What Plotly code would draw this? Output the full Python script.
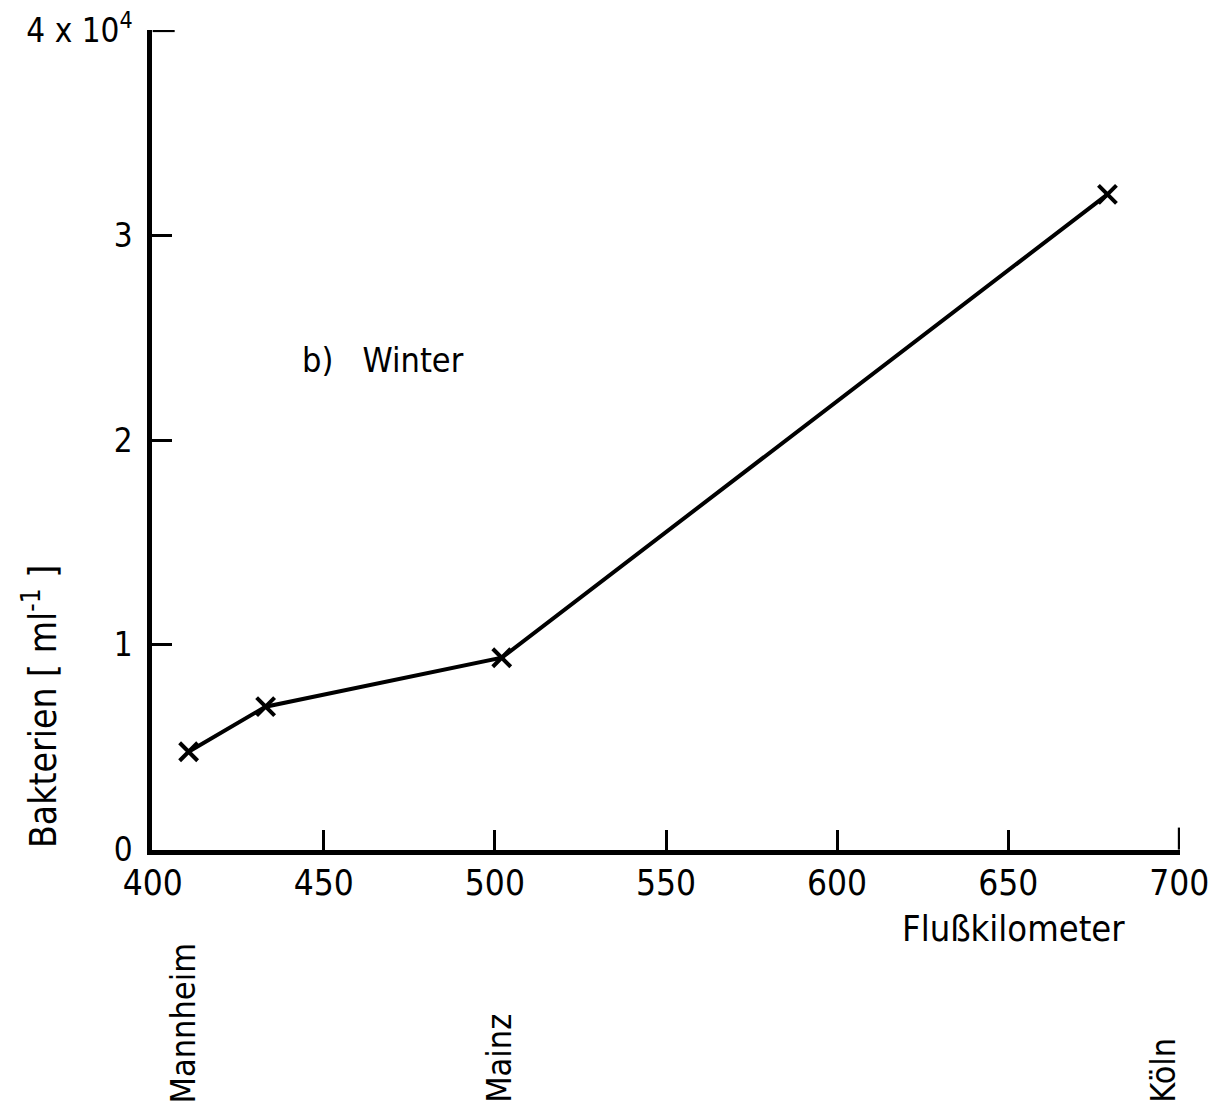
import plotly.graph_objects as go

km = [410.5, 433, 502, 679]
bakterien = [4780, 6980, 9370, 32000]

x_ticks = [400, 450, 500, 550, 600, 650, 700]
y_ticks = [0, 10000, 20000, 30000, 40000]
y_ticktext = ["0", "1", "2", "3", "4 x 10<sup>4</sup>"]

cities = ["Mannheim", "Mainz", "Köln"]
city_km = [409, 501, 695]

FONT = "DejaVu Sans Condensed, DejaVu Sans, sans-serif"

fig = go.Figure()
fig.add_trace(go.Scatter(
    x=km, y=bakterien, mode="lines+markers",
    line=dict(color="black", width=4),
    marker=dict(symbol="x-thin", size=18, line=dict(color="black", width=4)),
    showlegend=False,
))

W, H = 1216, 1111
l, r, t, b = 152, 36, 30, 261
pw, ph = W - l - r, H - t - b

fig.update_layout(
    width=W, height=H,
    margin=dict(l=l, r=r, t=t, b=b, autoexpand=False),
    paper_bgcolor="white", plot_bgcolor="white",
    font=dict(family=FONT, color="black"),
    xaxis=dict(
        range=[399.8, 700.2], tickvals=x_ticks, ticks="inside", ticklen=20,
        tickwidth=2.5, tickcolor="black", showline=True, linecolor="black",
        linewidth=4.5, showgrid=False, zeroline=False, automargin=False,
        tickfont=dict(size=35, family=FONT), ticklabelstandoff=-2,
    ),
    yaxis=dict(
        range=[-20, 40030], tickvals=y_ticks, ticktext=y_ticktext,
        ticks="inside", ticklen=20, tickwidth=2.5, tickcolor="black",
        showline=True, linecolor="black", linewidth=4.5, showgrid=False,
        zeroline=False, automargin=False, tickfont=dict(size=33, family=FONT),
        ticklabelstandoff=8,
    ),
)

# end ticks (top of y axis, right end of x axis), drawn in pixel length
fig.add_shape(type="line", xref="x", yref="y", xsizemode="pixel",
              xanchor=x_ticks[0], x0=0, x1=22, y0=y_ticks[-1], y1=y_ticks[-1],
              line=dict(color="black", width=3))
fig.add_shape(type="line", xref="x", yref="y", ysizemode="pixel",
              yanchor=y_ticks[0], y0=0, y1=22, x0=x_ticks[-1], x1=x_ticks[-1],
              line=dict(color="black", width=3))

annotations = [
    dict(x=1127, y=928, text="Flußkilometer", xanchor="right",
         yanchor="middle", textangle=0, size=36),
    dict(x=300, y=360, text="b)&nbsp;&nbsp;&nbsp;Winter", xanchor="left",
         yanchor="middle", textangle=0, size=34),
    dict(x=40, y=707, text="Bakterien [ ml<sup>-1</sup> ]", xanchor="center",
         yanchor="middle", textangle=-90, size=37),
]

fixed = []
for a in annotations:
    fixed.append(dict(
        x=(a["x"] - l) / pw, y=1 - (a["y"] - t) / ph,
        xref="paper", yref="paper", text=a["text"], showarrow=False,
        xanchor=a["xanchor"], yanchor=a["yanchor"], textangle=a["textangle"],
        font=dict(size=a["size"], family=FONT, color="black"),
    ))

for name, k in zip(cities, city_km):
    fixed.append(dict(
        x=k, xref="x", y=1 - (1105 - t) / ph, yref="paper", text=name,
        showarrow=False, textangle=-90, xanchor="center", yanchor="bottom",
        font=dict(size=34, family=FONT, color="black"),
    ))

fig.update_layout(annotations=fixed)
fig.write_html("out.html")
